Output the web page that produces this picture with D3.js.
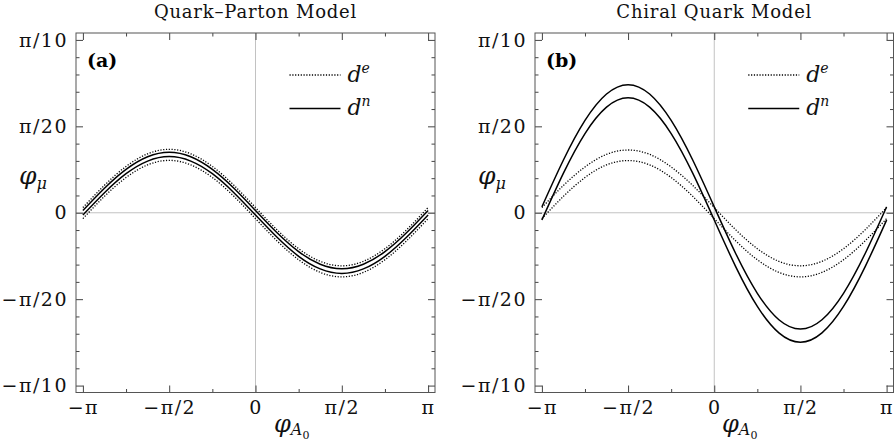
<!DOCTYPE html>
<html>
<head>
<meta charset="utf-8">
<script src="https://cdn.jsdelivr.net/npm/d3@7"></script>
<style>
  body { margin: 0; background: #fff; }
  svg { display: block; font-family: "DejaVu Serif", serif; }
</style>
</head>
<body>
<main></main>
<script>
// phase phi_A0 in units of pi
const phiA0 = [-1, -0.875, -0.75, -0.625, -0.5, -0.375, -0.25, -0.125, 0, 0.125, 0.25, 0.375, 0.5, 0.625, 0.75, 0.875, 1];
// phi_mu in units of pi/100, upper and lower edge of each band
const qpmDeHi = [0.30, 1.59, 2.68, 3.41, 3.67, 3.41, 2.68, 1.59, 0.30, -0.99, -2.08, -2.81, -3.07, -2.81, -2.08, -0.99, 0.30];
const qpmDeLo = [-0.34, 0.95, 2.04, 2.77, 3.03, 2.77, 2.04, 0.95, -0.34, -1.63, -2.72, -3.45, -3.71, -3.45, -2.72, -1.63, -0.34];
const qpmDnHi = [0.13, 1.42, 2.51, 3.24, 3.50, 3.24, 2.51, 1.42, 0.13, -1.16, -2.25, -2.98, -3.24, -2.98, -2.25, -1.16, 0.13];
const qpmDnLo = [-0.13, 1.16, 2.26, 2.99, 3.25, 2.99, 2.26, 1.16, -0.13, -1.42, -2.52, -3.25, -3.51, -3.25, -2.52, -1.42, -0.13];
const cqmDeHi = [0.30, 1.58, 2.65, 3.38, 3.63, 3.38, 2.65, 1.58, 0.30, -0.99, -2.08, -2.81, -3.07, -2.81, -2.08, -0.99, 0.30];
const cqmDeLo = [-0.34, 0.95, 2.04, 2.77, 3.02, 2.77, 2.04, 0.95, -0.34, -1.63, -2.72, -3.45, -3.71, -3.45, -2.72, -1.63, -0.34];
const cqmDnHi = [0.34, 3.05, 5.34, 6.87, 7.41, 6.87, 5.34, 3.05, 0.34, -2.37, -4.66, -6.19, -6.73, -6.19, -4.66, -2.37, 0.34];
const cqmDnLo = [-0.42, 2.29, 4.58, 6.11, 6.65, 6.11, 4.58, 2.29, -0.42, -3.13, -5.42, -6.95, -7.49, -6.95, -5.42, -3.13, -0.42];

const xMajor = [-1, -0.5, 0, 0.5, 1];
const xMinor = [-0.75, -0.25, 0.25, 0.75];
const xLabels = ["\u2212\u03c0", "\u2212\u03c0/2", "0", "\u03c0/2", "\u03c0"];
const yMajor = [-10, -5, 0, 5, 10];
const yMinor = [-9, -8, -7, -6, -4, -3, -2, -1, 1, 2, 3, 4, 6, 7, 8, 9];
const yLabels = ["\u2212\u03c0/10", "\u2212\u03c0/20", "0", "\u03c0/20", "\u03c0/10"];
const titles = ["Quark\u2013Parton Model", "Chiral Quark Model"];
const tags = ["(a)", "(b)"];

const w = 896, h = 443;
const plotTop = 33, plotBottom = 392.5;

const svg = d3.select("main").append("svg")
  .attr("width", w).attr("height", h);

const yScale = d3.scaleLinear().domain([-10.4, 10.4]).range([plotBottom, plotTop]);

function drawPanel(left, right, title, tag, de, dn, xlabX) {
  const xScale = d3.scaleLinear().domain([-1.04, 1.04]).range([left, right]);
  const g = svg.append("g");
  const x0 = xScale(0);

  // zero lines
  g.append("line").attr("x1", left).attr("x2", right)
    .attr("y1", yScale(0)).attr("y2", yScale(0))
    .attr("stroke", "#bbb").attr("stroke-width", 0.9);
  g.append("line").attr("x1", x0).attr("x2", x0)
    .attr("y1", plotTop).attr("y2", plotBottom)
    .attr("stroke", "#bbb").attr("stroke-width", 0.9);

  // ticks, all pointing inward
  const mk = (axis, tr, vals, size, fmt, pad) => {
    const a = g.append("g").attr("transform", tr)
      .call(axis.tickValues(vals).tickSize(-size).tickPadding(pad || 3).tickFormat(fmt));
    a.select(".domain").remove();
    a.selectAll(".tick line").attr("stroke", "#444");
    a.selectAll(".tick text")
      .attr("font-family", "DejaVu Serif, serif")
      .attr("font-size", 19)
      .attr("letter-spacing", 1.5)
      .attr("fill", "#111");
    return a;
  };
  const none = () => "";
  mk(d3.axisBottom(xScale), "translate(0," + plotBottom + ")", xMajor, 7, (d, i) => xLabels[i], 8);
  mk(d3.axisBottom(xScale), "translate(0," + plotBottom + ")", xMinor, 3.5, none);
  mk(d3.axisTop(xScale), "translate(0," + plotTop + ")", xMajor, 7, none);
  mk(d3.axisTop(xScale), "translate(0," + plotTop + ")", xMinor, 3.5, none);
  mk(d3.axisLeft(yScale), "translate(" + left + ",0)", yMajor, 7, (d, i) => yLabels[i], 8);
  mk(d3.axisLeft(yScale), "translate(" + left + ",0)", yMinor, 3.5, none);
  mk(d3.axisRight(yScale), "translate(" + right + ",0)", yMajor, 7, none);
  mk(d3.axisRight(yScale), "translate(" + right + ",0)", yMinor, 3.5, none);

  // frame
  g.append("rect").attr("x", left).attr("y", plotTop)
    .attr("width", right - left).attr("height", plotBottom - plotTop)
    .attr("fill", "none").attr("stroke", "#555").attr("stroke-width", 1);

  const line = d3.line()
    .x((d, i) => xScale(phiA0[i]))
    .y(d => yScale(d))
    .curve(d3.curveNatural);

  de.forEach(s => g.append("path").attr("d", line(s))
    .attr("fill", "none").attr("stroke", "#000")
    .attr("stroke-width", 1.3).attr("stroke-dasharray", "1.2 1.6"));
  dn.forEach(s => g.append("path").attr("d", line(s))
    .attr("fill", "none").attr("stroke", "#000").attr("stroke-width", 1.5));

  // title
  g.append("text").attr("x", x0).attr("y", 18)
    .attr("text-anchor", "middle").attr("font-size", 18)
    .attr("letter-spacing", 0.8).attr("fill", "#111").text(title);

  // panel tag
  g.append("text").attr("x", left + 11).attr("y", 67)
    .attr("font-size", 19).attr("font-weight", "bold").text(tag);

  // legend
  const lg = g.append("g");
  lg.append("line").attr("x1", x0 + 34).attr("x2", x0 + 85)
    .attr("y1", 75).attr("y2", 75).attr("stroke", "#000")
    .attr("stroke-width", 1.3).attr("stroke-dasharray", "1.2 1.6");
  lg.append("line").attr("x1", x0 + 34).attr("x2", x0 + 85)
    .attr("y1", 108.5).attr("y2", 108.5).attr("stroke", "#000").attr("stroke-width", 1.5);
  const t1 = lg.append("text").attr("x", x0 + 92).attr("y", 82)
    .attr("font-size", 22).attr("font-style", "italic").attr("fill", "#111");
  t1.append("tspan").text("d");
  t1.append("tspan").attr("dy", -9).attr("font-size", 14).text("e");
  const t2 = lg.append("text").attr("x", x0 + 92).attr("y", 115)
    .attr("font-size", 22).attr("font-style", "italic").attr("fill", "#111");
  t2.append("tspan").text("d");
  t2.append("tspan").attr("dy", -9).attr("font-size", 14).text("n");

  // y axis label
  const yl = g.append("text").attr("x", left - 57).attr("y", 184)
    .attr("font-size", 25).attr("font-style", "italic").attr("fill", "#111");
  yl.append("tspan").text("\u03c6");
  yl.append("tspan").attr("dy", 5).attr("font-size", 16).text("\u03bc");

  // x axis label
  const xl = g.append("text").attr("x", xlabX).attr("y", 432)
    .attr("font-size", 24).attr("font-style", "italic").attr("fill", "#111");
  xl.append("tspan").text("\u03c6");
  xl.append("tspan").attr("dy", 3).attr("font-size", 16).text("A");
  xl.append("tspan").attr("dy", 4).attr("font-size", 11).attr("font-style", "normal").text("0");
}

drawPanel(76, 435, titles[0], tags[0], [qpmDeHi, qpmDeLo], [qpmDnHi, qpmDnLo], 274);
drawPanel(535, 893.5, titles[1], tags[1], [cqmDeHi, cqmDeLo], [cqmDnHi, cqmDnLo], 722);
</script>
</body>
</html>
